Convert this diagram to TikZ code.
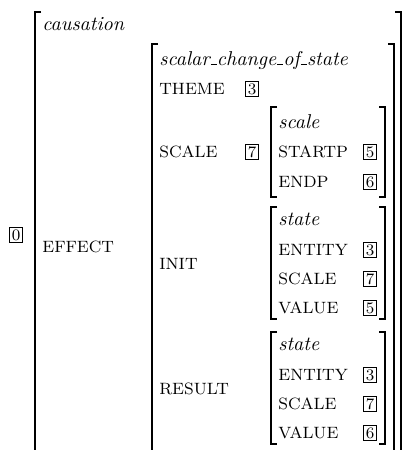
\documentclass[tikz,border=0pt]{standalone}
% short underscore, as in the old OT1 text fonts
\newcommand\usc{\kern.06em\vbox{\hrule width.3em}}
\begin{document}
\begin{tikzpicture}[x=.5pt, y=-.5pt,
    lbl/.style={anchor=base west, inner sep=0pt},
    attr/.style={lbl, font=\fontsize{8.2}{10}\selectfont},
    tag/.style={draw, anchor=base, font=\footnotesize, inner sep=1.3pt, text height=5.2pt, text depth=0pt, line width=.4pt},
    br/.style={line width=.7pt}]
\useasboundingbox (0,0) rectangle (403,450);
\begin{scope}
\clip (0,0) rectangle (403,450);
% outer matrix, runs past the bottom edge
\draw[br] (41,12)--(35,12)--(35,460);
\draw[br] (395,12)--(401,12)--(401,460);
% effect matrix
\draw[br] (158,44)--(152,44)--(152,460);
\draw[br] (388,44)--(394,44)--(394,460);
% scale matrix
\draw[br] (277,107)--(271,107)--(271,197)--(277,197);
\draw[br] (379,107)--(385,107)--(385,197)--(379,197);
\end{scope}

\node[tag] (tag0) at (16,240){0};
\node[lbl] (causation) at (42,30){\textit{causation}};
\node[attr] (effect) at (42,252){EFFECT};

\node[lbl] (scalar) at (159,65){\textit{scalar\usc change\usc of\usc state}};
\node[attr] (theme) at (159,94){THEME};
\node[tag] (themetag) at (252,94){3};
\node[attr] (scalelbl) at (159,157){SCALE};
\node[tag] (scaletag) at (252,157){7};

\node[lbl] (scale) at (278,128){\textit{scale}};
\node[attr] (startp) at (278,157){STARTP};
\node[tag] (startptag) at (370,157){5};
\node[attr] (endp) at (278,187){ENDP};
\node[tag] (endptag) at (370,187){6};

\node[attr] (init) at (159,269){INIT};
\node[attr] (result) at (159,394){RESULT};

% the two state matrices
\foreach \n/\t/\v in {init/207/5, result/332/6}
{
    \draw[br] (277,\t)--(271,\t)--(271,\t+112)--(277,\t+112);
    \draw[br] (379,\t)--(385,\t)--(385,\t+112)--(379,\t+112);
    \node[lbl] (\n state) at (278,\t+18){\textit{state}};
    \node[attr] (\n entity) at (278,\t+48){ENTITY};
    \node[tag] (\n entitytag) at (370,\t+48){3};
    \node[attr] (\n scale) at (278,\t+77){SCALE};
    \node[tag] (\n scaletag) at (370,\t+77){7};
    \node[attr] (\n value) at (278,\t+106){VALUE};
    \node[tag] (\n valuetag) at (370,\t+106){\v};
}
\end{tikzpicture}
\end{document}
